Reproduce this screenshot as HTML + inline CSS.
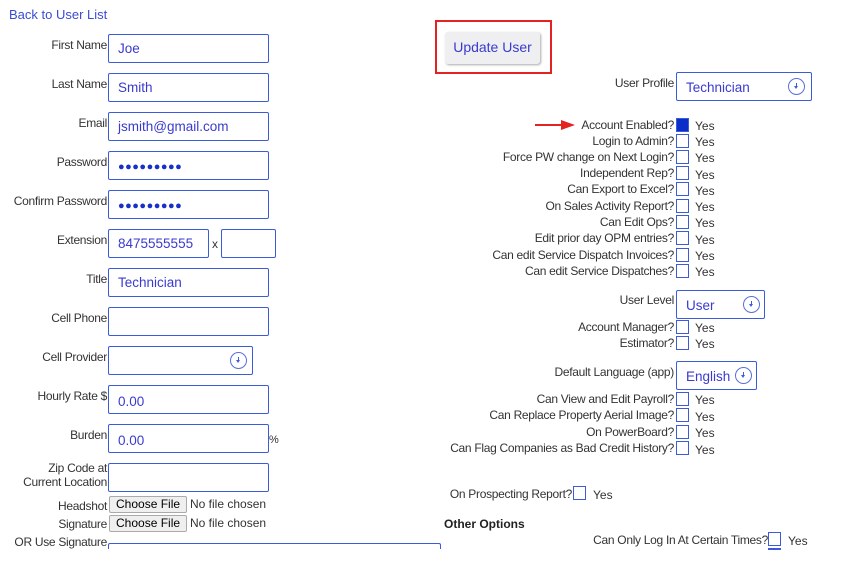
<!DOCTYPE html>
<html><head><meta charset="utf-8"><style>
body{margin:0;width:847px;height:564px;background:#fff;position:relative;overflow:hidden;font-family:"Liberation Sans",sans-serif;font-size:12px;color:#333;}
div,span{position:absolute;box-sizing:border-box;}
.l{text-align:right;white-space:nowrap;line-height:14px;letter-spacing:-0.3px}
.in{border:1.5px solid #3b5bdb;border-radius:2px;height:29px;font-size:13.5px;color:#3a3ad0;padding:6px 9px;line-height:16px;white-space:nowrap}
.dot{font-size:11px;letter-spacing:0.5px;color:#1a2fc8;padding-top:7px}
.cb{width:13px;height:14px;border:1.5px solid #3b5bdb;background:#fff}
.y{font-size:12px;}
.arr{width:17px;height:17px;border:1.5px solid #5a6fd8;border-radius:50%;}
.arr:after{content:"";position:absolute;left:4.5px;top:7px;border-left:2.5px solid transparent;border-right:2.5px solid transparent;border-top:3.5px solid #3b5bdb}
.arr:before{content:"";position:absolute;left:6.5px;top:3.5px;width:1.2px;height:4px;background:#3b5bdb}
.btn{border:1px solid #aaa;background:#efefef;border-radius:2px;height:17px;font-size:12px;padding:1px 6px;color:#000;line-height:13px}
</style></head><body>
<div style="left:9px;top:7px;font-size:13px;color:#3b4bd0">Back to User List</div>

<div class="l" style="right:740px;top:38px">First Name</div>
<div class="in" style="left:108px;top:34px;width:161px">Joe</div>
<div class="l" style="right:740px;top:77px">Last Name</div>
<div class="in" style="left:108px;top:73px;width:161px">Smith</div>
<div class="l" style="right:740px;top:116px">Email</div>
<div class="in" style="left:108px;top:112px;width:161px">jsmith@gmail.com</div>
<div class="l" style="right:740px;top:155px">Password</div>
<div class="in dot" style="left:108px;top:151px;width:161px">●●●●●●●●●</div>
<div class="l" style="right:740px;top:194px">Confirm Password</div>
<div class="in dot" style="left:108px;top:190px;width:161px">●●●●●●●●●</div>
<div class="l" style="right:740px;top:233px">Extension</div>
<div class="in" style="left:108px;top:229px;width:101px">8475555555</div>
<div style="left:212px;top:237px;font-size:12px">x</div>
<div class="in" style="left:221px;top:229px;width:55px"></div>
<div class="l" style="right:740px;top:272px">Title</div>
<div class="in" style="left:108px;top:268px;width:161px">Technician</div>
<div class="l" style="right:740px;top:311px">Cell Phone</div>
<div class="in" style="left:108px;top:307px;width:161px"></div>
<div class="l" style="right:740px;top:350px">Cell Provider</div>
<div class="in" style="left:108px;top:346px;width:145px"><span class="arr" style="left:121px;top:5px"></span></div>
<div class="l" style="right:740px;top:389px">Hourly Rate $</div>
<div class="in" style="left:108px;top:385px;width:161px;padding-top:8px">0.00</div>
<div class="l" style="right:740px;top:428px">Burden</div>
<div class="in" style="left:108px;top:424px;width:161px;padding-top:8px">0.00</div>
<div style="left:269px;top:434px;font-size:11px">%</div>
<div class="l" style="right:740px;top:461px">Zip Code at<br>Current Location</div>
<div class="in" style="left:108px;top:463px;width:161px"></div>
<div class="l" style="right:740px;top:499px">Headshot</div>
<div class="btn" style="left:109px;top:496px">Choose File</div>
<div style="left:190px;top:497px">No file chosen</div>
<div class="l" style="right:740px;top:517px">Signature</div>
<div class="btn" style="left:109px;top:515px">Choose File</div>
<div style="left:190px;top:516px">No file chosen</div>
<div class="l" style="right:740px;top:535px">OR Use Signature</div>
<div style="left:108px;top:543px;width:333px;height:6px;border:1.5px solid #3b5bdb;border-bottom:none;border-radius:2px 2px 0 0"></div>

<div style="left:435px;top:20px;width:117px;height:54px;border:2px solid #e32222"></div>
<div style="left:445px;top:32px;width:95px;height:32px;background:#efeff1;border-radius:3px;box-shadow:1px 1px 2px #aaa;font-size:14px;color:#3a3ad0;text-align:center;line-height:31px">Update User</div>

<div class="l" style="right:173px;top:76px">User Profile</div>
<div class="in" style="left:676px;top:72px;width:136px;padding-top:7px">Technician<span class="arr" style="left:111px;top:5px"></span></div>

<div style="left:535px;top:124px;width:28px;height:2px;background:#e32222"></div>
<div style="left:561px;top:120px;border-left:14px solid #e32222;border-top:5px solid transparent;border-bottom:5px solid transparent"></div>

<div class="l" style="right:173px;top:118px">Account Enabled?</div>
<div class="cb" style="left:676px;top:118px;background:#0a2ec8"></div><div class="y" style="left:695px;top:119px">Yes</div>
<div class="l" style="right:173px;top:134px">Login to Admin?</div><div class="cb" style="left:676px;top:134px"></div><div class="y" style="left:695px;top:135px">Yes</div>
<div class="l" style="right:173px;top:150px">Force PW change on Next Login?</div><div class="cb" style="left:676px;top:150px"></div><div class="y" style="left:695px;top:151px">Yes</div>
<div class="l" style="right:173px;top:166px">Independent Rep?</div><div class="cb" style="left:676px;top:166px"></div><div class="y" style="left:695px;top:168px">Yes</div>
<div class="l" style="right:173px;top:182px">Can Export to Excel?</div><div class="cb" style="left:676px;top:182px"></div><div class="y" style="left:695px;top:184px">Yes</div>
<div class="l" style="right:173px;top:199px">On Sales Activity Report?</div><div class="cb" style="left:676px;top:199px"></div><div class="y" style="left:695px;top:200px">Yes</div>
<div class="l" style="right:173px;top:215px">Can Edit Ops?</div><div class="cb" style="left:676px;top:215px"></div><div class="y" style="left:695px;top:216px">Yes</div>
<div class="l" style="right:173px;top:231px">Edit prior day OPM entries?</div><div class="cb" style="left:676px;top:231px"></div><div class="y" style="left:695px;top:233px">Yes</div>
<div class="l" style="right:173px;top:248px">Can edit Service Dispatch Invoices?</div><div class="cb" style="left:676px;top:248px"></div><div class="y" style="left:695px;top:249px">Yes</div>
<div class="l" style="right:173px;top:264px">Can edit Service Dispatches?</div><div class="cb" style="left:676px;top:264px"></div><div class="y" style="left:695px;top:265px">Yes</div>

<div class="l" style="right:173px;top:293px">User Level</div>
<div class="in" style="left:676px;top:290px;width:89px;padding-top:7px">User<span class="arr" style="left:66px;top:5px"></span></div>
<div class="l" style="right:173px;top:320px">Account Manager?</div><div class="cb" style="left:676px;top:320px"></div><div class="y" style="left:695px;top:321px">Yes</div>
<div class="l" style="right:173px;top:336px">Estimator?</div><div class="cb" style="left:676px;top:336px"></div><div class="y" style="left:695px;top:337px">Yes</div>

<div class="l" style="right:173px;top:365px">Default Language (app)</div>
<div class="in" style="left:676px;top:361px;width:81px;padding-top:7px">English<span class="arr" style="left:58px;top:5px"></span></div>
<div class="l" style="right:173px;top:392px">Can View and Edit Payroll?</div><div class="cb" style="left:676px;top:392px"></div><div class="y" style="left:695px;top:393px">Yes</div>
<div class="l" style="right:173px;top:408px">Can Replace Property Aerial Image?</div><div class="cb" style="left:676px;top:408px"></div><div class="y" style="left:695px;top:410px">Yes</div>
<div class="l" style="right:173px;top:425px">On PowerBoard?</div><div class="cb" style="left:676px;top:425px"></div><div class="y" style="left:695px;top:426px">Yes</div>
<div class="l" style="right:173px;top:441px">Can Flag Companies as Bad Credit History?</div><div class="cb" style="left:676px;top:441px"></div><div class="y" style="left:695px;top:443px">Yes</div>

<div class="l" style="right:275px;top:487px">On Prospecting Report?</div><div class="cb" style="left:573px;top:486px"></div><div class="y" style="left:593px;top:488px">Yes</div>
<div style="left:444px;top:517px;font-weight:bold;font-size:12px;color:#222">Other Options</div>
<div class="l" style="right:79px;top:533px">Can Only Log In At Certain Times?</div><div class="cb" style="left:768px;top:532px"></div><div class="y" style="left:788px;top:534px">Yes</div>
<div style="left:768px;top:548px;width:13px;height:1.5px;background:#3b5bdb"></div>
</body></html>
